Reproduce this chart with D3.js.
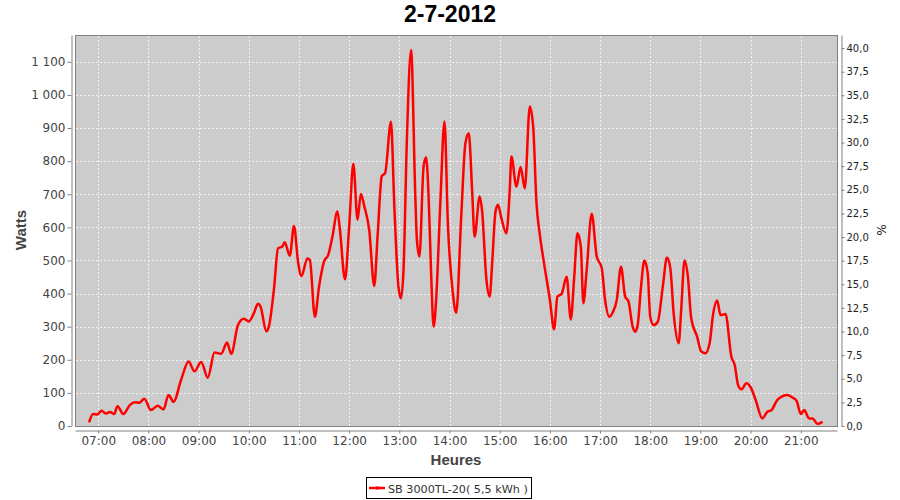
<!DOCTYPE html>
<html><head><meta charset="utf-8">
<script src="https://cdn.jsdelivr.net/npm/d3@7"></script>
<style>body{margin:0;background:#fff}</style>
</head><body>
<svg id="c" width="900" height="500"></svg>
<script>
// time of day in minutes since midnight
const timeMin = [409,414,419,424,429,434,439,443,450,458,464,469,475,483,491,498,504,510,519,528,535,543,551,559,567,574,579,587,594,600,606,611,614,621,624,630,635,640,643,649,654,659,663,670,673,679,684,690,695,700,706,709,715,720,725,730,734,738,744,750,754,759,763,770,774,779,782,785,789,794,799,801,804,809,812,815,818,821,824,829,834,838,844,848,854,859,863,867,870,876,879,884,888,891,895,898,902,908,912,914,920,925,930,936,940,944,948,953,960,965,969,974,980,985,989,993,997,1000,1004,1010,1016,1022,1026,1031,1035,1040,1045,1050,1054,1059,1062,1065,1069,1073,1077,1080,1084,1089,1095,1100,1104,1108,1114,1117,1121,1125,1129,1136,1141,1146,1151,1155,1160,1164,1170,1177,1181,1185,1189,1195,1200,1206,1214,1220,1225,1232,1244,1250,1255,1260,1264,1270,1274,1280,1286];
const watts = [11,36,35,46,38,42,36,60,36,64,72,70,82,48,61,50,94,73,139,195,165,193,146,222,218,252,218,304,324,316,340,369,361,286,300,411,537,542,555,514,604,494,453,506,502,330,421,497,517,572,648,592,443,602,792,623,701,665,592,423,574,755,764,919,665,419,386,471,864,1136,703,562,512,784,812,693,461,300,381,673,920,613,401,342,633,854,884,713,572,693,648,446,391,492,648,668,628,582,713,814,723,782,718,965,905,673,577,492,381,292,391,399,451,322,446,582,542,371,471,641,512,477,381,330,342,381,481,391,376,300,285,305,421,500,461,330,305,315,421,509,477,340,250,351,500,451,325,270,225,220,250,335,379,335,338,209,184,124,111,129,117,79,23,43,48,79,94,86,76,36,48,23,23,6,13];
const xTicks = [420,480,540,600,660,720,780,840,900,960,1020,1080,1140,1200,1260];
const yTicks = [0,100,200,300,400,500,600,700,800,900,1000,1100];
const pctTicks = [0,2.5,5,7.5,10,12.5,15,17.5,20,22.5,25,27.5,30,32.5,35,37.5,40];
const title = "2-7-2012";
const seriesName = "SB 3000TL-20( 5,5 kWh )";

const svg = d3.select("#c");
const L = 75, R = 837, T = 35, B = 426;
const x = d3.scaleLinear().domain([392.2, 1303.3]).range([L, R]);
const y = d3.scaleLinear().domain([0, 1181]).range([B, T]);
const yR = d3.scaleLinear().domain([0, 41.38]).range([B, T]);
const loc = d3.formatLocale({decimal: ",", thousands: " ", grouping: [3], currency: ["", ""]});
const fmtW = loc.format(",d");
const fmtP = loc.format(".1f");
const fmtT = m => String(Math.floor(m / 60)).padStart(2, "0") + ":" + String(m % 60).padStart(2, "0");

// title
svg.append("text").attr("x", 450).attr("y", 22).attr("text-anchor", "middle")
  .attr("font-family", "Liberation Sans").attr("font-weight", "bold").attr("font-size", 23)
  .attr("fill", "#000").text(title);

// plot background
svg.append("rect").attr("x", L + 0.5).attr("y", T + 0.5).attr("width", R - L).attr("height", B - T)
  .attr("fill", "#cccccc").attr("stroke", "#808080").attr("stroke-width", 1);

// grid
const grid = svg.append("g").attr("stroke", "#f2f2f2").attr("stroke-width", 1).attr("stroke-dasharray", "2,2");
xTicks.forEach(t => grid.append("line").attr("x1", Math.round(x(t)) + 0.5).attr("x2", Math.round(x(t)) + 0.5).attr("y1", T + 1).attr("y2", B));
yTicks.forEach(t => { if (t > 0) grid.append("line").attr("x1", L + 1).attr("x2", R).attr("y1", Math.round(y(t)) + 0.5).attr("y2", Math.round(y(t)) + 0.5); });

// axes
const axL = svg.append("g").attr("transform", "translate(71.5,0)")
  .call(d3.axisLeft(y).tickValues(yTicks).tickFormat(fmtW).tickSize(4).tickSizeOuter(0));
const axR = svg.append("g").attr("transform", "translate(841.5,0)")
  .call(d3.axisRight(yR).tickValues(pctTicks).tickFormat(fmtP).tickSize(3).tickSizeOuter(0));
const axB = svg.append("g").attr("transform", "translate(0,430.5)")
  .call(d3.axisBottom(x).tickValues(xTicks).tickFormat(fmtT).tickSize(3).tickSizeOuter(0));
[axL, axR, axB].forEach(a => {
  a.select(".domain").attr("stroke", "#808080");
  a.selectAll(".tick line").attr("stroke", "#808080");
  a.selectAll("text").attr("font-family", "DejaVu Sans");
});
axL.selectAll("text").attr("font-size", 12).attr("fill", "#444").attr("x", -6);
axB.selectAll("text").attr("font-size", 12).attr("fill", "#444").attr("y", 6);
axR.selectAll("text").attr("font-size", 10).attr("fill", "#222").attr("x", 5);

// axis titles
svg.append("text").attr("transform", "translate(26,230) rotate(-90)").attr("text-anchor", "middle")
  .attr("font-family", "Liberation Sans").attr("font-weight", "bold").attr("font-size", 15)
  .attr("fill", "#444").text("Watts");
svg.append("text").attr("x", 456).attr("y", 465).attr("text-anchor", "middle")
  .attr("font-family", "Liberation Sans").attr("font-weight", "bold").attr("font-size", 15)
  .attr("fill", "#444").text("Heures");
svg.append("text").attr("transform", "translate(877,230) rotate(90)").attr("text-anchor", "middle")
  .attr("font-family", "DejaVu Sans").attr("font-size", 12)
  .attr("fill", "#222").text("%");

// line
svg.append("clipPath").attr("id", "clip").append("rect").attr("x", L).attr("y", T).attr("width", R - L).attr("height", B - T);
const data = timeMin.map((t, i) => [t, watts[i]]);
svg.append("path").datum(data).attr("clip-path", "url(#clip)")
  .attr("fill", "none").attr("stroke", "#ff0000").attr("stroke-width", 2.5).attr("stroke-linejoin", "round")
  .attr("d", d3.line().x(d => x(d[0])).y(d => y(d[1])).curve(d3.curveMonotoneX));

// legend
const lg = svg.append("g");
lg.append("rect").attr("x", 366.5).attr("y", 477.5).attr("width", 165).attr("height", 21)
  .attr("fill", "#fff").attr("stroke", "#000").attr("stroke-width", 1);
lg.append("line").attr("x1", 369).attr("x2", 385).attr("y1", 488).attr("y2", 488)
  .attr("stroke", "#ff0000").attr("stroke-width", 2.5);
lg.append("rect").attr("x", 376).attr("y", 486.5).attr("width", 3).attr("height", 3).attr("fill", "#ff0000");
lg.append("text").attr("x", 388).attr("y", 492.5).attr("font-family", "DejaVu Sans").attr("font-size", 11.2)
  .attr("fill", "#333").text(seriesName);
</script>
</body></html>
